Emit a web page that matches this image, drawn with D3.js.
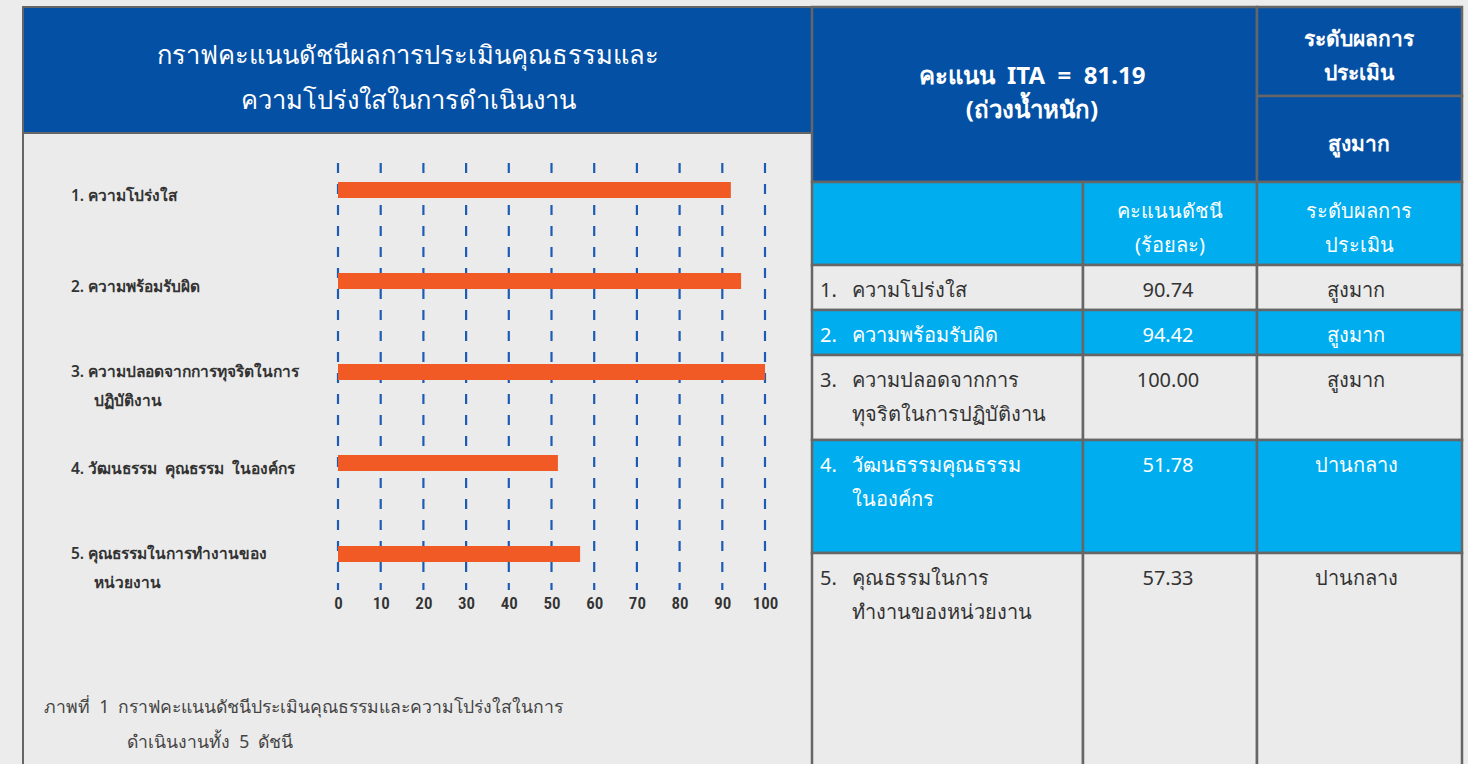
<!DOCTYPE html>
<html>
<head>
<meta charset="utf-8">
<script src="https://cdn.jsdelivr.net/npm/d3@7"></script>
<style>
body{margin:0;background:#ececec;}
svg{display:block;font-family:"Noto Sans","DejaVu Sans",sans-serif;}
svg text{white-space:pre;}
</style>
</head>
<body>
<svg id="ita" width="1468" height="764"></svg>
<script>
// data
var categories=[
    ["1. ความโปร่งใส"],
    ["2. ความพร้อมรับผิด"],
    ["3. ความปลอดจากการทุจริตในการ","ปฏิบัติงาน"],
    ["4. วัฒนธรรม  คุณธรรม  ในองค์กร"],
    ["5. คุณธรรมในการทำงานของ","หน่วยงาน"]
];
var barValues=[92.0,94.4,100,51.5,56.7];
var xTicks=[0,10,20,30,40,50,60,70,80,90,100];
var chartTitle=["กราฟคะแนนดัชนีผลการประเมินคุณธรรมและ","ความโปร่งใสในการดำเนินงาน"];
var caption=["ภาพที่  1  กราฟคะแนนดัชนีประเมินคุณธรรมและความโปร่งใสในการ","ดำเนินงานทั้ง  5  ดัชนี"];

var itaScore="81.19";
var itaLevel="สูงมาก";
var rowNumbers=["1.","2.","3.","4.","5."];
var rowNames=[["ความโปร่งใส"],["ความพร้อมรับผิด"],["ความปลอดจากการ","ทุจริตในการปฏิบัติงาน"],["วัฒนธรรมคุณธรรม","ในองค์กร"],["คุณธรรมในการ","ทำงานของหน่วยงาน"]];
var scores=["90.74","94.42","100.00","51.78","57.33"];
var levels=["สูงมาก","สูงมาก","สูงมาก","ปานกลาง","ปานกลาง"];

var darkBlue="#0450a4",lightBlue="#00aeef",grey="#ebebeb",line="#666",orange="#f15a24",grid="#1d5cb4";

var svg=d3.select("#ita");

// ---------- left panel ----------
svg.append("rect").attr("x",23).attr("y",7).attr("width",789).attr("height",770)
    .attr("fill",grey).attr("stroke",line).attr("stroke-width",2);
svg.append("rect").attr("x",23).attr("y",7).attr("width",789).attr("height",126)
    .attr("fill",darkBlue).attr("stroke",line).attr("stroke-width",2);
svg.append("g").selectAll("text").data(chartTitle).enter().append("text")
    .attr("x",408).attr("y",(d,i)=>64+i*45)
    .attr("text-anchor","middle").attr("fill","#fff")
    .attr("font-size",25.5).attr("font-weight",500)
    .text(d=>d);

var xScale=d3.scaleLinear().domain([0,100]).range([338,765]);
var yScale=d3.scalePoint().domain(d3.range(categories.length)).range([190,554]);

// dashed grid
svg.append("g").selectAll("line").data(xTicks).enter().append("line")
    .attr("x1",d=>xScale(d)).attr("x2",d=>xScale(d))
    .attr("y1",163).attr("y2",590)
    .attr("stroke",grid).attr("stroke-width",2.2)
    .attr("stroke-dasharray","10,11");

// bars
svg.append("g").selectAll("rect").data(barValues).enter().append("rect")
    .attr("x",xScale(0))
    .attr("y",(d,i)=>yScale(i)-8)
    .attr("width",d=>xScale(d)-xScale(0))
    .attr("height",16)
    .attr("fill",orange);

// x axis labels
var xAxis=d3.axisBottom(xScale).tickValues(xTicks).tickSize(0).tickPadding(0).tickFormat(d3.format("d"));
var gx=svg.append("g").attr("transform","translate(0,597)").call(xAxis);
gx.select(".domain").remove();
gx.selectAll("text").attr("fill","#333").attr("font-size",17).attr("font-weight",600)
    .attr("font-family","'Roboto Condensed','Liberation Sans Narrow','DejaVu Sans Condensed',sans-serif");

// category labels
var lab=svg.append("g").selectAll("g").data(categories).enter().append("g")
    .attr("transform",(d,i)=>"translate(0,"+(yScale(i)+(d.length>1?5:11))+")");
lab.selectAll("text").data(d=>d).enter().append("text")
    .attr("x",(d,i)=>i?94:71).attr("y",(d,i)=>i*29)
    .attr("fill","#333").attr("font-size",15.5).attr("font-weight",600)
    .text(d=>d);

// caption
svg.append("g").selectAll("text").data(caption).enter().append("text")
    .attr("x",(d,i)=>i?127:44).attr("y",(d,i)=>713+i*35)
    .attr("fill","#444").attr("font-size",17.6)
    .text(d=>d);

// ---------- right table ----------
var cx=[812,1083,1257,1462];
var t=svg.append("g");
function cell(x,y,w,h,fill){
    t.append("rect").attr("x",x).attr("y",y).attr("width",w).attr("height",h)
        .attr("fill",fill).attr("stroke",line).attr("stroke-width",2.5);
}
function txt(x,y,s,opt){
    opt=opt||{};
    return t.append("text").attr("x",x).attr("y",y).text(s)
        .attr("text-anchor",opt.anchor||"middle")
        .attr("fill",opt.fill||"#fff")
        .attr("font-size",opt.size||20)
        .attr("font-weight",opt.weight||400);
}
// top header
cell(cx[0],7,cx[2]-cx[0],175,darkBlue);
cell(cx[2],7,cx[3]-cx[2],89,darkBlue);
cell(cx[2],96,cx[3]-cx[2],86,darkBlue);
txt(1032,84,"คะแนน  ITA  =  "+itaScore,{size:24,weight:700});
txt(1032,118,"(ถ่วงน้ำหนัก)",{size:24,weight:700});
txt(1359,46,"ระดับผลการ",{size:21,weight:700});
txt(1359,80,"ประเมิน",{size:21,weight:700});
txt(1359,151,itaLevel,{size:21,weight:700});
// sub header
cell(cx[0],182,cx[1]-cx[0],83,lightBlue);
cell(cx[1],182,cx[2]-cx[1],83,lightBlue);
cell(cx[2],182,cx[3]-cx[2],83,lightBlue);
txt(1170,218,"คะแนนดัชนี");
txt(1170,252,"(ร้อยละ)");
txt(1359,218,"ระดับผลการ");
txt(1359,252,"ประเมิน");

// body rows
var rowHeights=[45,45,85,113,230];
var rowTop=[265];
rowHeights.forEach((h,i)=>rowTop.push(rowTop[i]+h));
rowNumbers.forEach(function(n,i){
    var fill=i%2?lightBlue:grey, col=i%2?"#fff":"#333", y0=rowTop[i];
    cell(cx[0],y0,cx[1]-cx[0],rowHeights[i],fill);
    cell(cx[1],y0,cx[2]-cx[1],rowHeights[i],fill);
    cell(cx[2],y0,cx[3]-cx[2],rowHeights[i],fill);
    txt(820,y0+32,n,{anchor:"start",fill:col});
    rowNames[i].forEach(function(s,j){
        txt(852,y0+32+j*34,s,{anchor:"start",fill:col});
    });
    txt(1168,y0+32,scores[i],{fill:col});
    txt(1356,y0+32,levels[i],{fill:col});
});
</script>
</body>
</html>
